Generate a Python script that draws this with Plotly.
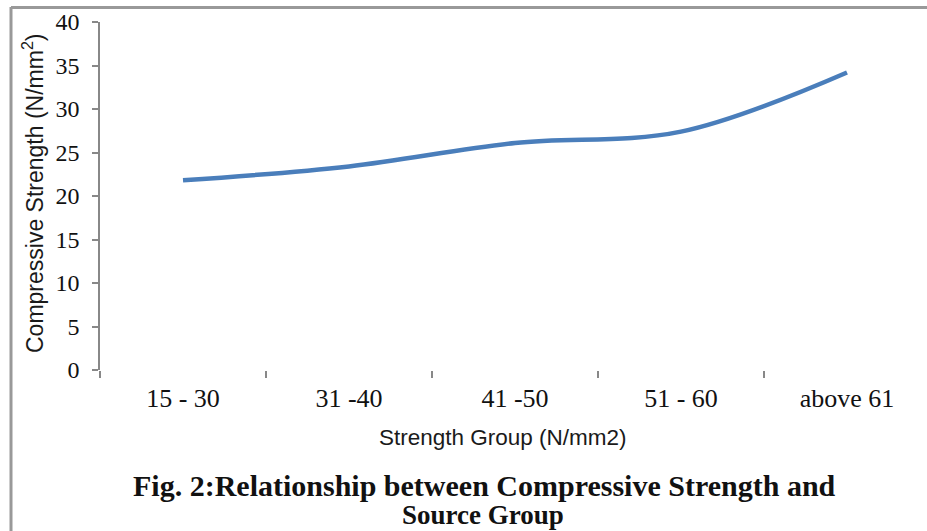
import plotly.graph_objects as go

categories = ["15 - 30", "31 -40", "41 -50", "51 - 60", "above 61"]
strength = [21.8, 23.4, 26.1, 27.4, 34.2]
y_ticks = [0, 5, 10, 15, 20, 25, 30, 35, 40]

W, H = 927, 531
L, R, T, B = 100, 0, 22, 161
pw, ph = W - L - R, H - T - B

def px(x):
    return (x - L) / pw

def py(y):
    return (H - B - y) / ph

fig = go.Figure()
fig.add_trace(go.Scatter(
    x=categories, y=strength, mode="lines",
    line=dict(color="#4a7ebb", width=4.5, shape="spline", smoothing=1.0),
    showlegend=False, hoverinfo="skip"))

fig.update_layout(
    width=W, height=H,
    margin=dict(l=L, r=R, t=T, b=B, pad=0),
    paper_bgcolor="white", plot_bgcolor="white",
    xaxis=dict(
        type="category", categoryorder="array", categoryarray=categories,
        range=[-0.5, -0.5 + 5 * pw / 830.0],
        tickson="boundaries", ticks="outside", ticklen=7, tickcolor="#888888", tickwidth=1.5,
        showline=False, showgrid=False, zeroline=False,
        tickfont=dict(family="Liberation Serif", size=26, color="#111111"),
        ticklabelstandoff=10,
    ),
    yaxis=dict(
        range=[0, 40], tickvals=y_ticks, ticktext=[str(v) for v in y_ticks],
        ticks="outside", ticklen=6, tickcolor="#888888", tickwidth=1.5,
        showline=True, linecolor="#888888", linewidth=1.5,
        showgrid=False, zeroline=False,
        tickfont=dict(family="Liberation Serif", size=24, color="#111111"),
        ticklabelstandoff=8,
    ),
    annotations=[
        dict(text="Compressive Strength (N/mm<sup>2</sup>)", textangle=-90,
             x=px(33), y=py(193), xref="paper", yref="paper", showarrow=False,
             xanchor="center", yanchor="middle",
             font=dict(family="Liberation Sans", size=23, color="#1a1a1a")),
        dict(text="Strength Group (N/mm2)",
             x=px(503), y=py(437), xref="paper", yref="paper", showarrow=False,
             xanchor="center", yanchor="middle",
             font=dict(family="Liberation Sans", size=22.5, color="#1a1a1a")),
        dict(text="<b>Fig. 2:Relationship between Compressive Strength and</b>",
             x=px(484), y=py(485), xref="paper", yref="paper", showarrow=False,
             xanchor="center", yanchor="middle",
             font=dict(family="Liberation Serif", size=30, color="#111111")),
        dict(text="<b>Source Group</b>",
             x=px(483), y=py(515), xref="paper", yref="paper", showarrow=False,
             xanchor="center", yanchor="middle",
             font=dict(family="Liberation Serif", size=27, color="#111111")),
    ],
    shapes=[
        dict(type="line", xref="paper", yref="paper", x0=px(11), x1=px(11), y0=py(7), y1=py(531),
             line=dict(color="#999999", width=3)),
        dict(type="line", xref="paper", yref="paper", x0=px(11), x1=px(927), y0=py(7.5), y1=py(7.5),
             line=dict(color="#999999", width=3)),
    ],
)

fig.write_html("out.html", config={"displayModeBar": False},
               post_script="document.body.style.margin='0';document.body.style.overflow='hidden';")
